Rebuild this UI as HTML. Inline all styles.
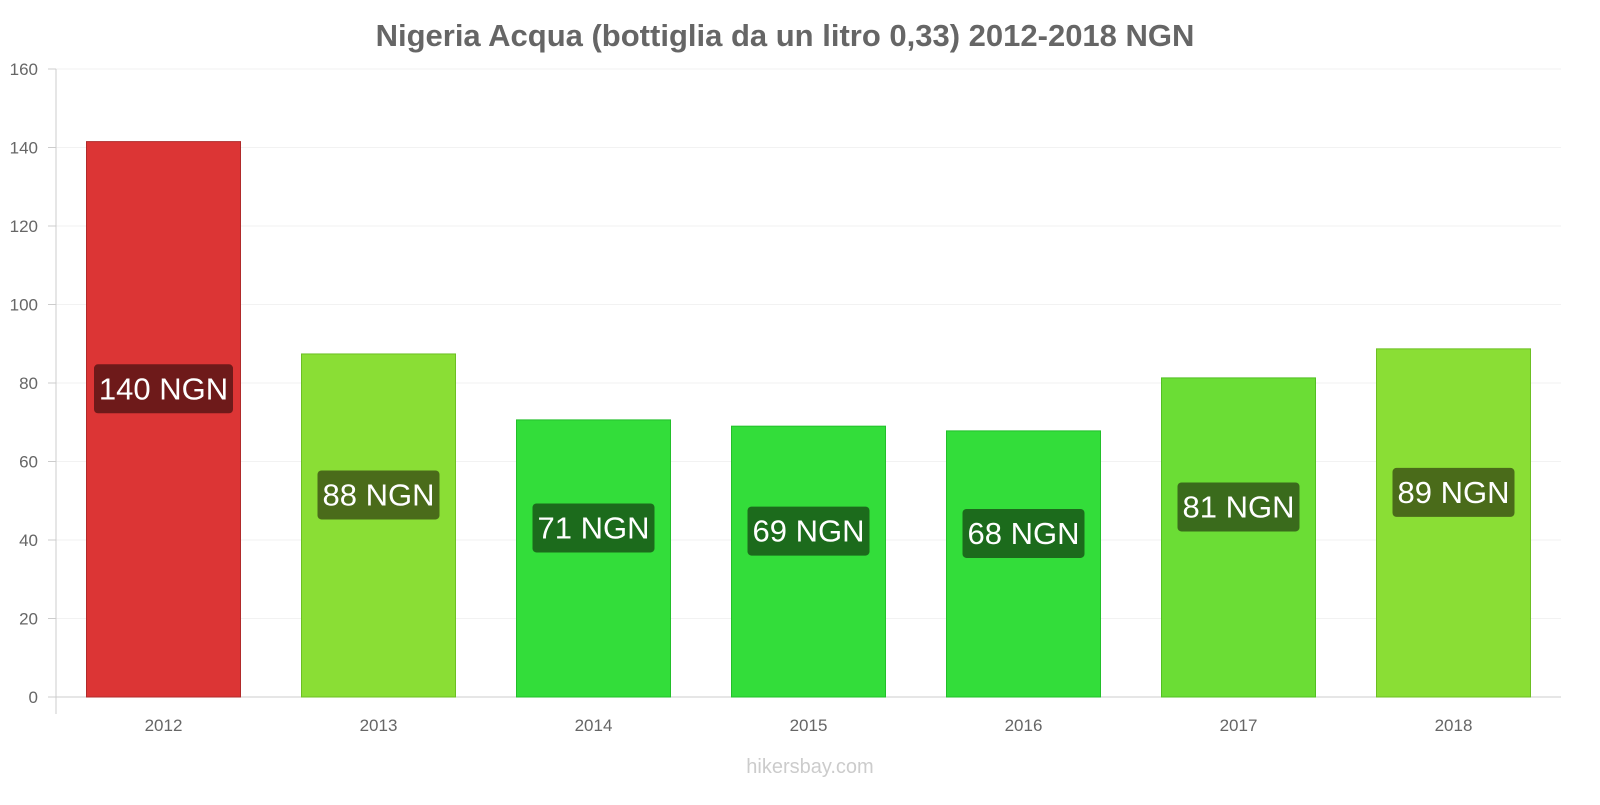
<!DOCTYPE html>
<html><head><meta charset="utf-8"><style>
body{margin:0;background:#fff;font-family:"Liberation Sans",sans-serif}
</style></head><body>
<svg id="chart" width="1600" height="800" xmlns="http://www.w3.org/2000/svg">
<text x="785" y="46" text-anchor="middle" font-size="31" font-weight="bold" fill="#666" font-family="Liberation Sans">Nigeria Acqua (bottiglia da un litro 0,33) 2012-2018 NGN</text>
<g id="grid"></g><g id="bars"></g><g id="axes"></g>
<text x="810" y="773" text-anchor="middle" font-size="20" fill="#ccc">hikersbay.com</text>
</svg>
<script>
const categories=["2012","2013","2014","2015","2016","2017","2018"];
const values=[141.5,87.4,70.6,69.0,67.8,81.3,88.7];
const labels=["140 NGN","88 NGN","71 NGN","69 NGN","68 NGN","81 NGN","89 NGN"];
const yTicks=[0,20,40,60,80,100,120,140,160];
const NS="http://www.w3.org/2000/svg";
const x0=56,x1=1561,yBase=697,yTop=69,yMax=160;
const band=(x1-x0)/categories.length,bw=154;
const y=v=>yBase-(v/yMax)*(yBase-yTop);
const xc=i=>x0+band*(i+0.5);
function mk(t,a,p){const e=document.createElementNS(NS,t);for(const k in a)e.setAttribute(k,a[k]);p.appendChild(e);return e;}
const grid=document.getElementById('grid'),bars=document.getElementById('bars'),axes=document.getElementById('axes');
yTicks.forEach(t=>{
 const l=mk('line',{x1:x0,x2:x1,y1:y(t),y2:y(t),stroke:t===0?'#ccc':'#f2f2f2'},grid);
 
 
 const tx=mk('text',{x:38,y:y(t)+6,'text-anchor':'end','font-size':17,fill:'#666'},axes);
 tx.textContent=t;
 
 
 mk('line',{x1:x0-8,x2:x0,y1:y(t),y2:y(t),stroke:'#ccc'},axes);
});
mk('line',{x1:x0,x2:x0,y1:yTop,y2:yBase+17,stroke:'#ccc'},axes);
function colors(v){
 if(v>120)return['#dc3535','#b02a2a','#6e1a1a'];
 if(v>85)return['#8ade35','#6cbf22','#4a6b1a'];
 if(v>75)return['#6bdd35','#52bf22','#3a6b1c'];
 return['#33dd3a','#22bf2a','#1c6b1c'];
}
values.forEach((v,i)=>{
 const c=colors(v),cx=xc(i),top=y(v);
 const r=mk('rect',{x:cx-bw/2,y:top,width:bw,height:yBase-top,fill:c[0],stroke:c[1]},bars);
 
 
 const ly=(top+yBase)/2-31;
 const w=labels[i].length*17+20;
 const lb=mk('rect',{x:cx-w/2,y:ly-24,width:w,height:49,rx:4,fill:c[2]},bars);
 
 
 const t=mk('text',{x:cx,y:ly+11,'text-anchor':'middle','font-size':31,fill:'#fff'},bars);
 t.textContent=labels[i];
 
 
 const xt=mk('text',{x:cx,y:731,'text-anchor':'middle','font-size':17,fill:'#666'},axes);
 xt.textContent=categories[i];
 
 
});
</script>
</body></html>
